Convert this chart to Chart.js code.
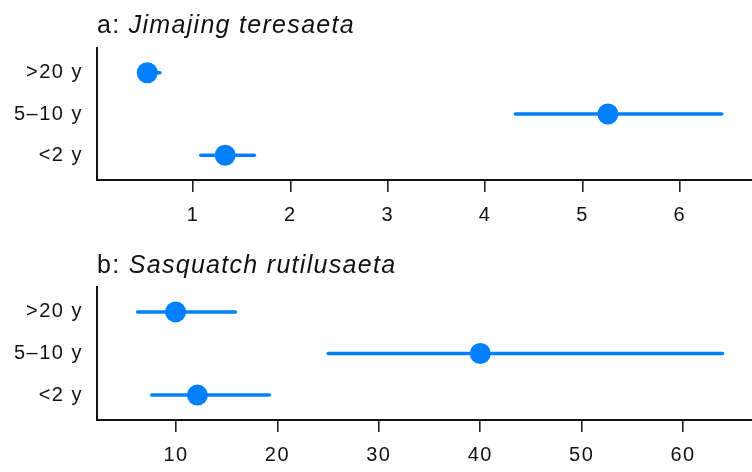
<!DOCTYPE html>
<html>
<head>
<meta charset="utf-8">
<script src="https://cdn.jsdelivr.net/npm/chart.js@4.4.1/dist/chart.umd.min.js"></script>
<style>
  html, body { margin: 0; padding: 0; background: #fff; }
  #wrap { position: relative; width: 752px; height: 472px; overflow: hidden; }
  .panel { position: absolute; left: 0; width: 752px; }
  .title {
    position: absolute; left: 97px; margin: 0;
    font-family: "Liberation Sans", Arial, sans-serif;
    font-size: 25px; line-height: 25px; letter-spacing: 1.3px;
    color: #111; font-weight: normal; white-space: nowrap; z-index: 2;
  }
</style>
</head>
<body>
<div id="wrap">
  <div class="title" style="top: 12px;">a: <i>Jimajing teresaeta</i></div>
  <div class="panel" style="top: 0; height: 236px;"><canvas id="chartA"></canvas></div>
  <div class="title" style="top: 252px;">b: <i>Sasquatch rutilusaeta</i></div>
  <div class="panel" style="top: 240px; height: 232px;"><canvas id="chartB"></canvas></div>
</div>
<script>
// rows, bottom to top
const rows = ['<2 y', '5–10 y', '>20 y'];

// panel a: Jimajing teresaeta
const estA = [1.33, 5.26, 0.53];
const lowA = [1.08, 4.31, 0.47];
const highA = [1.63, 6.43, 0.66];
const ticksA = [1, 2, 3, 4, 5, 6];

// panel b: Sasquatch rutilusaeta
const estB = [12.1, 40.0, 9.95];
const lowB = [7.6, 25.0, 6.2];
const highB = [19.2, 63.9, 15.85];
const ticksB = [10, 20, 30, 40, 50, 60];

const blue = '#0080ff';
const ink = '#111';
const font = { family: '"Liberation Sans", Arial, sans-serif', size: 20 };

// labels in the reference are a bit wider than Arial
const spacing = {
  id: 'spacing',
  beforeLayout(chart) { chart.ctx.letterSpacing = '1.5px'; },
  beforeDraw(chart) { chart.ctx.letterSpacing = '1.5px'; }
};

function makeChart(id, est, low, high, xTicks, xMin, xMax, padTop, xHeight) {
  const datasets = [{
    data: est.map((v, i) => ({ x: v, y: i + 1 })),
    pointRadius: 10.5,
    pointBackgroundColor: blue,
    pointBorderWidth: 0,
    order: 0
  }];
  rows.forEach((r, i) => {
    datasets.push({
      data: [{ x: low[i], y: i + 1 }, { x: high[i], y: i + 1 }],
      showLine: true,
      borderColor: blue,
      borderWidth: 3.5,
      borderCapStyle: 'round',
      pointRadius: 0,
      order: 1
    });
  });

  return new Chart(document.getElementById(id), {
    type: 'scatter',
    data: { datasets },
    plugins: [spacing],
    options: {
      responsive: true,
      maintainAspectRatio: false,
      animation: false,
      layout: { autoPadding: false, padding: { top: padTop, left: 0, right: 0, bottom: 0 } },
      plugins: { legend: { display: false }, tooltip: { enabled: false } },
      scales: {
        x: {
          type: 'linear',
          min: xMin,
          max: xMax,
          afterBuildTicks: s => { s.ticks = xTicks.map(v => ({ value: v })); },
          afterFit: s => { s.height = xHeight; s.paddingRight = 0; },
          border: { display: true, color: ink, width: 2 },
          grid: { drawOnChartArea: false, drawTicks: true, tickLength: 12, color: '#222', lineWidth: 1.6 },
          ticks: { color: ink, font, padding: 11, maxRotation: 0 }
        },
        y: {
          type: 'linear',
          min: 0.4,
          max: 3.6,
          afterBuildTicks: s => { s.ticks = rows.map((r, i) => ({ value: i + 1 })); },
          afterFit: s => { s.width = 97; },
          border: { display: true, color: ink, width: 2 },
          grid: { display: false, drawTicks: false },
          ticks: { color: ink, font, padding: 14, callback: v => rows[v - 1] }
        }
      }
    }
  });
}

makeChart('chartA', estA, lowA, highA, ticksA, 0.014, 6.74, 48, 56);
makeChart('chartB', estB, lowB, highB, ticksB, 2.2, 66.8, 47, 52);
</script>
</body>
</html>
